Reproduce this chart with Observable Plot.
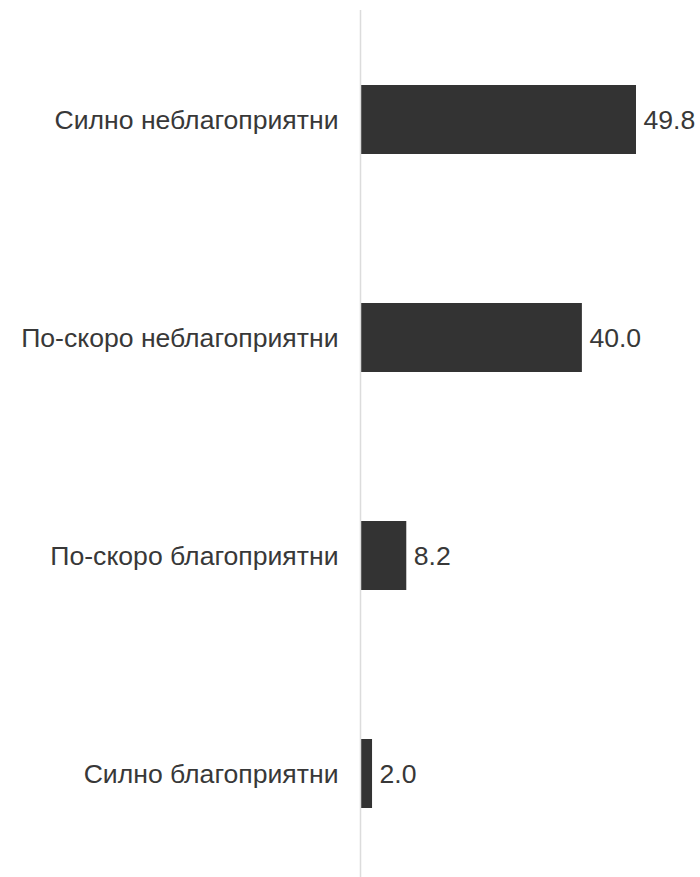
<!DOCTYPE html>
<html>
<head>
<meta charset="utf-8">
<script src="https://cdn.jsdelivr.net/npm/d3@7"></script>
<script src="https://cdn.jsdelivr.net/npm/@observablehq/plot@0.6"></script>
<style>
  html, body { margin: 0; padding: 0; background: #fff; overflow: hidden; }
  #chart svg { display: block; }
  #chart svg, #chart svg text { font-family: "Liberation Sans", Arial, sans-serif !important; }
</style>
</head>
<body>
<div id="chart"></div>
<script>
const categories = ["Силно неблагоприятни", "По-скоро неблагоприятни", "По-скоро благоприятни", "Силно благоприятни"];
const values = [49.8, 40.0, 8.2, 2.0];

const data = categories.map((c, i) => ({category: c, value: values[i]}));

const chart = Plot.plot({
  width: 700,
  height: 892,
  marginLeft: 361,
  marginRight: 64,
  marginTop: 10,
  marginBottom: 10,
  style: {fontSize: "26.6px", color: "#383838"},
  x: {domain: [0, 49.8], axis: null},
  y: {domain: categories, paddingInner: 0.685, paddingOuter: 0.3425, label: null},
  marks: [
    Plot.axisY({tickSize: 0, tickPadding: 23, fontSize: 26.6, fill: "#383838", label: null}),
    Plot.barX(data, {x: "value", y: "category", fill: "#333"}),
    Plot.ruleX([0], {stroke: "#dcdcdc", strokeWidth: 1.5, dx: -1}),
    Plot.text(data, {x: "value", y: "category", text: d => d.value.toFixed(1), textAnchor: "start", dx: 7, fontSize: 26.6, fill: "#383838"})
  ]
});
document.getElementById("chart").appendChild(chart);
</script>
</body>
</html>
